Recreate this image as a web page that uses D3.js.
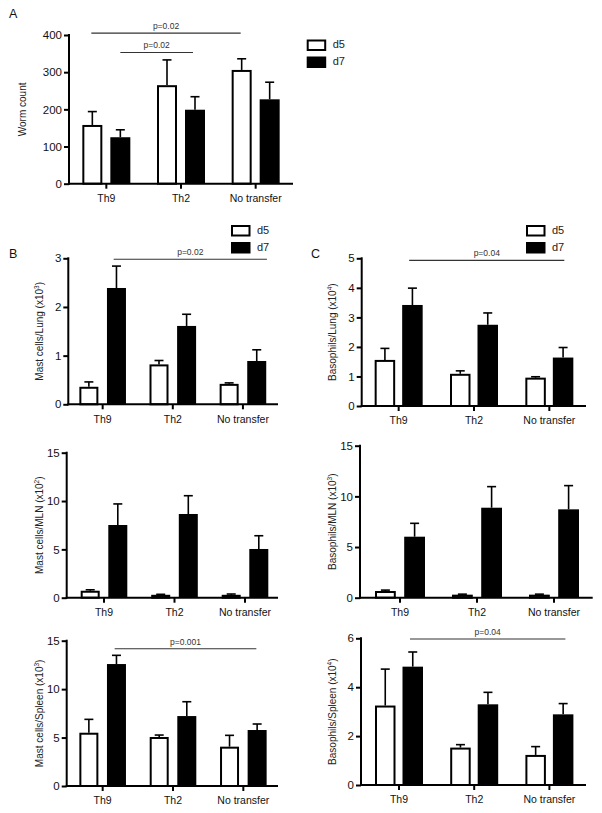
<!DOCTYPE html>
<html><head><meta charset="utf-8">
<script src="https://cdn.jsdelivr.net/npm/d3@7"></script>
<style>
body{margin:0;background:#fff}
svg{display:block;font-family:"Liberation Sans",Arial,Helvetica,sans-serif}
</style>
</head><body>
<svg id="chart" width="602" height="813"></svg>
<script>
// ---------- data ----------
const groups = ["Th9", "Th2", "No transfer"];
const seriesNames = ["d5", "d7"];

const wormD5 = [158, 265, 306];
const wormD5Sem = [36, 68, 30];
const wormD7 = [125, 199, 227];
const wormD7Sem = [20, 35, 46];
const wormTicks = [0, 100, 200, 300, 400];

const mastLungD5 = [0.36, 0.82, 0.42];
const mastLungD5Sem = [0.10, 0.08, 0.02];
const mastLungD7 = [2.39, 1.61, 0.89];
const mastLungD7Sem = [0.45, 0.24, 0.23];
const mastLungTicks = [0, 1, 2, 3];

const basoLungD5 = [1.56, 1.09, 0.96];
const basoLungD5Sem = [0.39, 0.10, 0.03];
const basoLungD7 = [3.42, 2.75, 1.64];
const basoLungD7Sem = [0.57, 0.40, 0.34];
const basoLungTicks = [0, 1, 2, 3, 4, 5];

const mastMlnD5 = [0.72, 0.30, 0.30];
const mastMlnD5Sem = [0.10, 0.05, 0.08];
const mastMlnD7 = [7.52, 8.66, 5.04];
const mastMlnD7Sem = [2.18, 1.89, 1.37];
const mastMlnTicks = [0, 5, 10, 15];

const basoMlnD5 = [0.66, 0.30, 0.30];
const basoMlnD5Sem = [0.09, 0.05, 0.05];
const basoMlnD7 = [6.02, 8.88, 8.72];
const basoMlnD7Sem = [1.32, 2.08, 2.34];
const basoMlnTicks = [0, 5, 10, 15];

const mastSpleenD5 = [5.50, 5.06, 4.06];
const mastSpleenD5Sem = [1.38, 0.20, 1.17];
const mastSpleenD7 = [12.59, 7.22, 5.78];
const mastSpleenD7Sem = [0.90, 1.48, 0.62];
const mastSpleenTicks = [0, 5, 10, 15];

const basoSpleenD5 = [3.25, 1.53, 1.23];
const basoSpleenD5Sem = [1.49, 0.12, 0.34];
const basoSpleenD7 = [4.84, 3.30, 2.89];
const basoSpleenD7Sem = [0.60, 0.49, 0.44];
const basoSpleenTicks = [0, 2, 4, 6];

// significance annotations: [fromGroup, toGroup, level, label]
const wormSig = [["Th9", "No transfer", 405, "p=0.02"], ["Th9", "Th2", 353, "p=0.02"]];
const mastLungSig = [["Th9", "No transfer", 2.98, "p=0.02"]];
const basoLungSig = [["Th9", "No transfer", 4.93, "p=0.04"]];
const mastSpleenSig = [["Th9", "No transfer", 14.17, "p=0.001"]];
const basoSpleenSig = [["Th9", "No transfer", 5.97, "p=0.04"]];

// ---------- layout ----------
const panels = [
  {d5: wormD5, d5e: wormD5Sem, d7: wormD7, d7e: wormD7Sem, ticks: wormTicks,
   axisX: 69, axisEnd: 293, band: [69, 293], y0: 183.7, yTop: 35, half: 24, bw: 20,
   title: ["Worm count"], titleX: 23, letter: ["A", 9, 17.5], legend: [306.7, 39.5],
   sig: wormSig, sigOff: [[-15, -15], [14, 12]]},
  {d5: mastLungD5, d5e: mastLungD5Sem, d7: mastLungD7, d7e: mastLungD7Sem, ticks: mastLungTicks,
   axisX: 68.3, axisEnd: 278, band: [67.6, 278], y0: 404.3, yTop: 258.3, half: 23.3, bw: 19,
   title: ["Mast cells/Lung (x10", "3", ")"], titleX: 40, letter: ["B", 9, 258], legend: [231, 225],
   sig: mastLungSig, sigOff: [[11, 24]]},
  {d5: basoLungD5, d5e: basoLungD5Sem, d7: basoLungD7, d7e: basoLungD7Sem, ticks: basoLungTicks,
   axisX: 361.7, axisEnd: 586, band: [361, 587], y0: 406, yTop: 258.3, half: 24, bw: 20.5,
   title: ["Basophils/Lung (x10", "4", ")"], titleX: 333, letter: ["C", 311, 258], legend: [526, 225],
   sig: basoLungSig, sigOff: [[10.5, 15]]},
  {d5: mastMlnD5, d5e: mastMlnD5Sem, d7: mastMlnD7, d7e: mastMlnD7Sem, ticks: mastMlnTicks,
   axisX: 66.7, axisEnd: 278, band: [68.75, 280.25], y0: 597.7, yTop: 452.7, half: 23.3, bw: 19,
   title: ["Mast cells/MLN (x10", "2", ")"], titleX: 40, sig: [], sigOff: []},
  {d5: basoMlnD5, d5e: basoMlnD5Sem, d7: basoMlnD7, d7e: basoMlnD7Sem, ticks: basoMlnTicks,
   axisX: 360, axisEnd: 592.7, band: [361.5, 592.5], y0: 597.7, yTop: 445.7, half: 25, bw: 20.8,
   title: ["Basophils/MLN (x10", "3", ")"], titleX: 333, sig: [], sigOff: []},
  {d5: mastSpleenD5, d5e: mastSpleenD5Sem, d7: mastSpleenD7, d7e: mastSpleenD7Sem, ticks: mastSpleenTicks,
   axisX: 66.7, axisEnd: 278, band: [67.5, 278.5], y0: 786, yTop: 640.7, half: 23.3, bw: 19,
   title: ["Mast cells/Spleen (x10", "3", ")"], titleX: 40,
   sig: mastSpleenSig, sigOff: [[12, 13]]},
  {d5: basoSpleenD5, d5e: basoSpleenD5Sem, d7: basoSpleenD7, d7e: basoSpleenD7Sem, ticks: basoSpleenTicks,
   axisX: 361, axisEnd: 586, band: [361.4, 587], y0: 785, yTop: 638.3, half: 24, bw: 20.5,
   title: ["Basophils/Spleen (x10", "4", ")"], titleX: 333,
   sig: basoSpleenSig, sigOff: [[11, 16]]}
];

const svg = d3.select("#chart");

panels.forEach(p => {
  const g = svg.append("g");
  const yMax = p.ticks[p.ticks.length - 1];
  const y = d3.scaleLinear().domain([0, yMax]).range([p.y0, p.yTop]);
  const x = d3.scaleBand().domain(groups).range(p.band).paddingInner(0).paddingOuter(0);
  const gap = 2 * p.half - 2 * p.bw;
  const pin = gap / (p.bw + gap);
  const xs = d3.scaleBand().domain(seriesNames).range([-p.half, p.half]).paddingInner(pin).paddingOuter(0);
  const cx = gname => x(gname) + x.bandwidth() / 2;

  // bars
  const rows = [];
  groups.forEach((gn, i) => {
    rows.push({g: gn, s: "d5", v: p.d5[i], e: p.d5e[i]});
    rows.push({g: gn, s: "d7", v: p.d7[i], e: p.d7e[i]});
  });
  // error bars (drawn first so bars cover their base)
  const eb = g.append("g").attr("stroke", "#000").attr("stroke-width", 1.6).attr("fill", "none");
  rows.forEach(r => {
    const bx = cx(r.g) + xs(r.s) + xs.bandwidth() / 2;
    eb.append("line").attr("x1", bx).attr("x2", bx).attr("y1", y(r.v)).attr("y2", y(r.v + r.e));
    eb.append("line").attr("x1", bx - 4.5).attr("x2", bx + 4.5).attr("y1", y(r.v + r.e)).attr("y2", y(r.v + r.e));
  });
  rows.forEach(r => {
    const bx = cx(r.g) + xs(r.s);
    if (r.s === "d5") {
      g.append("rect").attr("x", bx + 1).attr("width", xs.bandwidth() - 2)
        .attr("y", y(r.v) + 1).attr("height", Math.max(0, y(0) - y(r.v) - 1))
        .attr("fill", "#fff").attr("stroke", "#000").attr("stroke-width", 2);
    } else {
      g.append("rect").attr("x", bx).attr("width", xs.bandwidth())
        .attr("y", y(r.v)).attr("height", y(0) - y(r.v)).attr("fill", "#000");
    }
  });

  // y axis
  const ya = g.append("g").attr("transform", `translate(${p.axisX},0)`)
    .call(d3.axisLeft(y).tickValues(p.ticks).tickSize(5).tickPadding(2).tickSizeOuter(0).tickFormat(d3.format("d")));
  ya.selectAll("path,line").attr("stroke", "#000").attr("stroke-width", 2);
  ya.select(".domain").attr("d", `M0,${y(yMax) - 1}V${p.y0 + 1}`);
  ya.selectAll("text").attr("font-size", 11.5).attr("fill", "#111")
    .attr("font-family", "'Liberation Sans',Arial,sans-serif");

  // x axis
  const xa = g.append("g").attr("transform", `translate(0,${p.y0})`)
    .call(d3.axisBottom(x).tickSize(5).tickPadding(6).tickSizeOuter(0));
  xa.select(".domain").remove();
  xa.selectAll("line").attr("stroke", "#000").attr("stroke-width", 2);
  xa.selectAll("text").attr("font-size", 10.5).attr("fill", "#111")
    .attr("font-family", "'Liberation Sans',Arial,sans-serif");
  g.append("line").attr("x1", p.axisX - 1).attr("x2", p.axisEnd).attr("y1", p.y0).attr("y2", p.y0)
    .attr("stroke", "#000").attr("stroke-width", 2);

  // y title
  const ty = (p.y0 + p.yTop) / 2;
  const t = g.append("text").attr("transform", `translate(${p.titleX},${ty}) rotate(-90)`)
    .attr("text-anchor", "middle").attr("dominant-baseline", "middle")
    .attr("font-size", 10).attr("fill", "#222");
  t.append("tspan").text(p.title[0]);
  if (p.title.length > 1) {
    t.append("tspan").attr("font-size", 6.5).attr("dy", -3.5).text(p.title[1]);
    t.append("tspan").attr("dy", 3.5).text(p.title[2]);
  }

  // significance lines
  p.sig.forEach((s, i) => {
    const x1 = cx(s[0]) + p.sigOff[i][0], x2 = cx(s[1]) + p.sigOff[i][1];
    const yy = y(s[2]);
    g.append("line").attr("x1", x1).attr("x2", x2).attr("y1", yy).attr("y2", yy)
      .attr("stroke", "#333").attr("stroke-width", 1.1);
    g.append("text").attr("x", (x1 + x2) / 2).attr("y", yy - 4).attr("text-anchor", "middle")
      .attr("font-size", 8.5).attr("fill", "#333").text(s[3]);
  });

  // panel letter
  if (p.letter) {
    g.append("text").attr("x", p.letter[1]).attr("y", p.letter[2]).attr("font-size", 12.5)
      .attr("fill", "#111").text(p.letter[0]);
  }

  // legend
  if (p.legend) {
    const [lx, ly] = p.legend;
    const lg = g.append("g").attr("transform", `translate(${lx},${ly})`);
    seriesNames.forEach((s, i) => {
      const oy = i * 17;
      if (s === "d5") {
        lg.append("rect").attr("x", 1).attr("y", oy + 1).attr("width", 17.5).attr("height", 9.5)
          .attr("fill", "#fff").attr("stroke", "#000").attr("stroke-width", 2);
      } else {
        lg.append("rect").attr("x", 0).attr("y", oy).attr("width", 19.5).attr("height", 11.5).attr("fill", "#000");
      }
      lg.append("text").attr("x", 26).attr("y", oy + 5.75).attr("dominant-baseline", "middle")
        .attr("font-size", 11).attr("fill", "#222").text(s);
    });
  }
});
</script>
</body></html>
